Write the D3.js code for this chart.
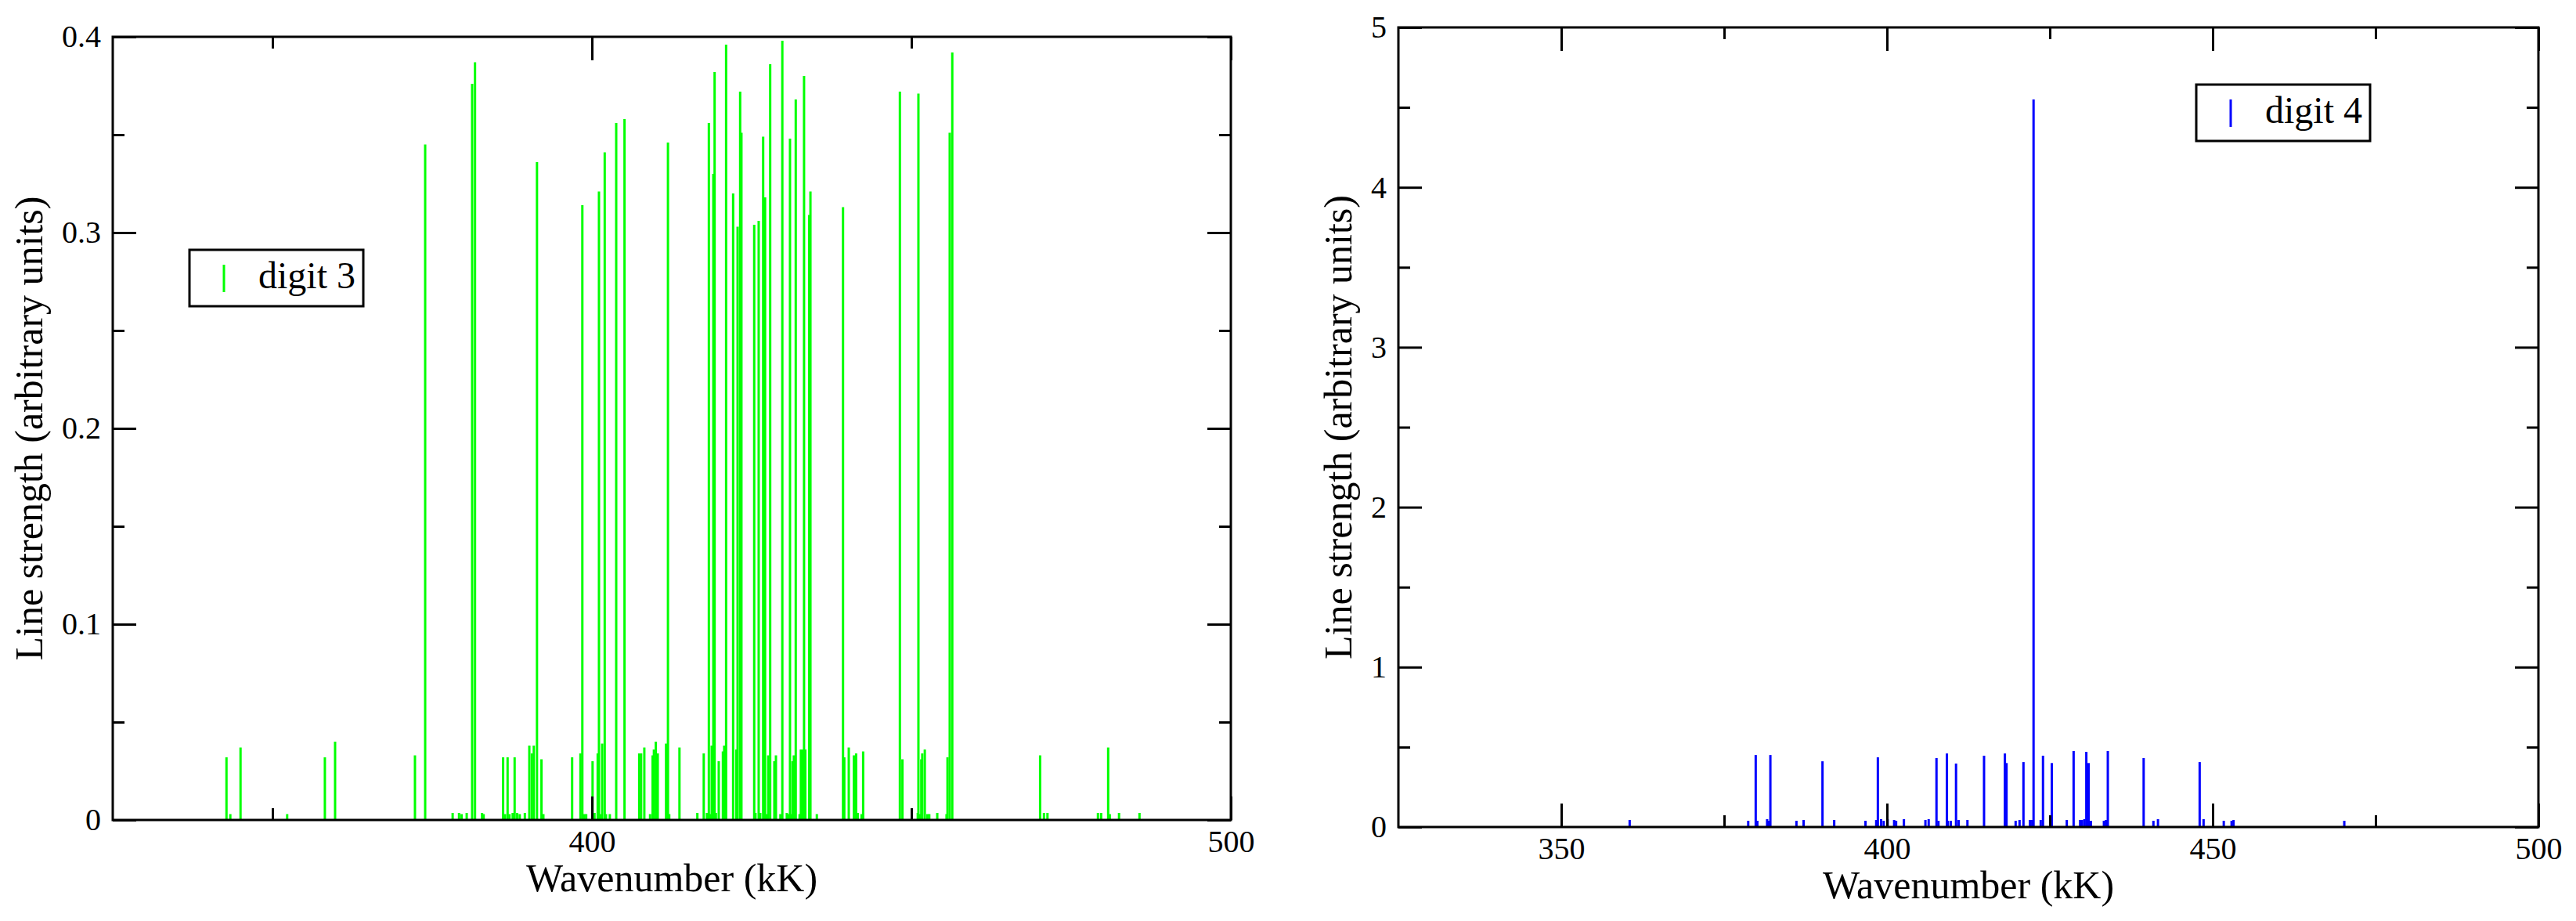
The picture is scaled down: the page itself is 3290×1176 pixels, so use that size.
<!DOCTYPE html>
<html>
<head>
<meta charset="utf-8">
<script src="https://cdn.jsdelivr.net/npm/d3@7"></script>
<style>
  html, body { margin: 0; padding: 0; background: #fff; }
  svg { display: block; }
</style>
</head>
<body>
<div id="chart"></div>
<script>
// line positions (kK) and strengths
const digit3Wavenumber = [
  342.8, 343.4, 345.0, 352.3, 358.2, 359.8, 372.3, 373.9, 378.2, 379.2,
  379.6, 380.4, 381.25, 381.7, 382.8, 383.05, 386.1, 386.4, 386.8, 387.1,
  387.6, 387.9, 388.3, 388.7, 389.5, 390.2, 390.6, 390.9, 391.4, 392.1,
  392.4, 396.9, 398.2, 398.5, 398.8, 399.1, 400.1, 400.4, 400.9, 401.1,
  401.35, 401.6, 402.0, 402.2, 402.8, 403.8, 405.1, 407.4, 407.7, 408.2,
  409.1, 409.5, 409.7, 410.0, 410.3, 411.6, 411.9, 412.1, 413.7, 416.5,
  417.5, 418.0, 418.3, 418.5, 418.75, 419.0, 419.2, 419.4, 419.85, 420.5,
  420.7, 421.0, 422.1, 422.6, 422.8, 423.2, 423.4, 425.4, 425.6, 426.1,
  426.35, 426.8, 427.1, 427.3, 427.6, 427.9, 428.55, 428.8, 429.5, 429.8,
  430.5, 430.8, 431.0, 431.25, 431.4, 431.6, 431.9, 432.5, 432.7, 433.0,
  433.2, 433.4, 434.0, 434.2, 435.2, 439.3, 439.5, 440.2, 441.0, 441.35,
  441.6, 442.2, 442.45, 448.2, 448.6, 451.0, 451.1, 451.35, 451.55, 451.7,
  452.1, 452.5, 452.8, 454.05, 455.5, 455.65, 456.0, 456.4, 470.15, 470.75,
  471.3, 479.2, 479.7, 480.8, 481.05, 482.5, 485.7
];
const digit3Strength = [
  0.032, 0.003, 0.037, 0.003, 0.032, 0.040, 0.033, 0.345, 0.0036, 0.0036,
  0.003, 0.0036, 0.376, 0.387, 0.0036, 0.003, 0.032, 0.003, 0.032, 0.003,
  0.0036, 0.032, 0.0036, 0.003, 0.0036, 0.038, 0.034, 0.038, 0.336, 0.031,
  0.003, 0.032, 0.034, 0.314, 0.003, 0.003, 0.030, 0.0036, 0.034, 0.321,
  0.003, 0.039, 0.341, 0.003, 0.003, 0.356, 0.358, 0.034, 0.034, 0.037,
  0.003, 0.033, 0.036, 0.040, 0.034, 0.039, 0.346, 0.003, 0.037, 0.0036,
  0.034, 0.0036, 0.356, 0.003, 0.038, 0.330, 0.382, 0.0036, 0.030, 0.035,
  0.038, 0.396, 0.320, 0.036, 0.303, 0.372, 0.351, 0.304, 0.0036, 0.306,
  0.0036, 0.349, 0.318, 0.003, 0.033, 0.386, 0.030, 0.033, 0.003, 0.398,
  0.0036, 0.003, 0.348, 0.003, 0.030, 0.033, 0.368, 0.003, 0.036, 0.036,
  0.380, 0.036, 0.309, 0.321, 0.003, 0.313, 0.032, 0.037, 0.033, 0.034,
  0.0036, 0.003, 0.035, 0.372, 0.031, 0.0036, 0.371, 0.003, 0.031, 0.034,
  0.036, 0.003, 0.003, 0.0036, 0.003, 0.032, 0.351, 0.392, 0.033, 0.0036,
  0.0036, 0.0036, 0.0036, 0.037, 0.003, 0.0036, 0.0036
];

const digit4Wavenumber = [
  360.5, 378.7, 379.85, 380.1, 381.6, 381.9, 382.1, 386.1, 387.2, 390.1,
  391.9, 396.7, 398.35, 398.6, 399.1, 399.5, 400.1, 401.1, 401.4, 402.6,
  405.9, 406.4, 407.6, 407.9, 409.2, 409.35, 409.8, 410.6, 411.0, 412.35,
  414.9, 418.1, 418.35, 419.75, 420.35, 420.95, 421.95, 422.3, 422.5, 423.6,
  423.95, 425.3, 427.6, 428.65, 429.65, 429.95, 430.3, 430.6, 430.95, 431.3,
  433.3, 433.6, 433.9, 439.4, 440.9, 441.6, 448.0, 448.6, 451.7, 452.9,
  453.2, 470.2
];
const digit4Strength = [
  0.044, 0.039, 0.45, 0.039, 0.049, 0.039, 0.45, 0.039, 0.044, 0.411,
  0.044, 0.039, 0.044, 0.436, 0.049, 0.039, 0.049, 0.044, 0.039, 0.049,
  0.044, 0.049, 0.431, 0.039, 0.46, 0.039, 0.039, 0.397, 0.044, 0.044,
  0.446, 0.46, 0.40, 0.039, 0.044, 0.406, 0.044, 0.044, 4.55, 0.044,
  0.446, 0.40, 0.044, 0.475, 0.044, 0.044, 0.049, 0.47, 0.40, 0.039,
  0.039, 0.044, 0.475, 0.431, 0.039, 0.049, 0.406, 0.049, 0.039, 0.039,
  0.044, 0.039
];

// tick values
const xDomain = [325, 500];
const leftXMajor = [400, 500];
const leftXMinor = [350, 450];
const leftYMajor = [0, 0.1, 0.2, 0.3, 0.4];
const leftYMinor = [0.05, 0.15, 0.25, 0.35];
const rightXMajor = [350, 400, 450, 500];
const rightXMinor = [375, 425, 475];
const rightYMajor = [0, 1, 2, 3, 4, 5];
const rightYMinor = [0.5, 1.5, 2.5, 3.5, 4.5];

const xTitle = "Wavenumber (kK)";
const yTitle = "Line strength (arbitrary units)";

const W = 3290, H = 1176;
const font = "'Liberation Serif', 'Times New Roman', Times, serif";

const svg = d3.select("#chart").append("svg")
    .attr("width", W)
    .attr("height", H)
    .attr("font-family", font);

svg.append("rect").attr("width", W).attr("height", H).attr("fill", "#fff");

function panel(o) {
  const x = d3.scaleLinear(xDomain, [o.left, o.right]);
  const y = d3.scaleLinear(o.yDomain, [o.bottom, o.top]);
  const g = svg.append("g");

  // spectral lines
  g.append("g")
    .selectAll("line")
    .data(o.xs.map((d, i) => [d, o.ys[i]]))
    .join("line")
      .attr("x1", d => x(d[0]))
      .attr("x2", d => x(d[0]))
      .attr("y1", y(0))
      .attr("y2", d => y(d[1]))
      .attr("stroke", o.color)
      .attr("stroke-width", 3);

  // inward ticks on all four sides
  const fmt = d => String(d);
  const put = (axis, tx, ty) => {
    const a = g.append("g").attr("transform", `translate(${tx},${ty})`).call(axis);
    a.select(".domain").remove();
    a.selectAll(".tick line").attr("stroke", "#000").attr("stroke-width", 3);
    a.selectAll("text").attr("font-family", font).attr("font-size", 40).attr("fill", "#000");
    return a;
  };
  put(d3.axisBottom(x).tickValues(o.xMajor).tickSize(-30).tickPadding(13).tickFormat(fmt), 0, o.bottom);
  put(d3.axisBottom(x).tickValues(o.xMinor).tickSize(-15).tickFormat(""), 0, o.bottom);
  put(d3.axisTop(x).tickValues(o.xMajor).tickSize(-30).tickFormat(""), 0, o.top);
  put(d3.axisTop(x).tickValues(o.xMinor).tickSize(-15).tickFormat(""), 0, o.top);
  put(d3.axisLeft(y).tickValues(o.yMajor).tickSize(-30).tickPadding(15).tickFormat(fmt), o.left, 0);
  put(d3.axisLeft(y).tickValues(o.yMinor).tickSize(-15).tickFormat(""), o.left, 0);
  put(d3.axisRight(y).tickValues(o.yMajor).tickSize(-30).tickFormat(""), o.right, 0);
  put(d3.axisRight(y).tickValues(o.yMinor).tickSize(-15).tickFormat(""), o.right, 0);

  // frame
  g.append("rect")
    .attr("x", o.left).attr("y", o.top)
    .attr("width", o.right - o.left).attr("height", o.bottom - o.top)
    .attr("fill", "none").attr("stroke", "#000").attr("stroke-width", 3);

  // axis titles
  g.append("text")
    .attr("x", (o.left + o.right) / 2)
    .attr("y", o.bottom + 91)
    .attr("text-anchor", "middle")
    .attr("font-size", 50)
    .text(xTitle);
  g.append("text")
    .attr("transform", `translate(${o.yTitleX},${(o.top + o.bottom) / 2}) rotate(-90)`)
    .attr("text-anchor", "middle")
    .attr("font-size", 50)
    .text(yTitle);

  // legend
  const lg = g.append("g").attr("transform", `translate(${o.legend[0]},${o.legend[1]})`);
  lg.append("rect").attr("width", 222).attr("height", 72)
    .attr("fill", "#fff").attr("stroke", "#000").attr("stroke-width", 3);
  lg.append("line").attr("x1", 44).attr("x2", 44).attr("y1", 19).attr("y2", 54)
    .attr("stroke", o.color).attr("stroke-width", 3);
  lg.append("text").attr("x", 88).attr("y", 49).attr("font-size", 48).text(o.label);
}

panel({
  left: 144, right: 1572, top: 47, bottom: 1047,
  yDomain: [0, 0.4],
  xs: digit3Wavenumber, ys: digit3Strength, color: "#00ff00",
  xMajor: leftXMajor, xMinor: leftXMinor, yMajor: leftYMajor, yMinor: leftYMinor,
  yTitleX: 54, legend: [242, 319], label: "digit 3"
});

panel({
  left: 1786, right: 3242, top: 35, bottom: 1056,
  yDomain: [0, 5],
  xs: digit4Wavenumber, ys: digit4Strength, color: "#0000ff",
  xMajor: rightXMajor, xMinor: rightXMinor, yMajor: rightYMajor, yMinor: rightYMinor,
  yTitleX: 1726, legend: [2805, 108], label: "digit 4"
});
</script>
</body>
</html>
